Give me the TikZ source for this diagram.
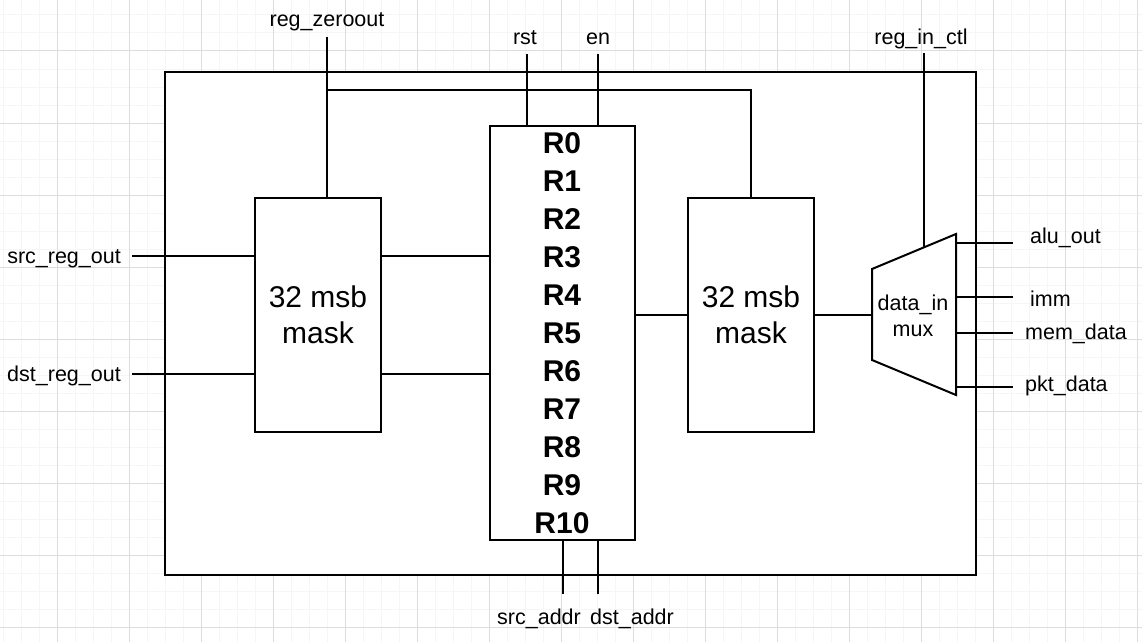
\documentclass[tikz,border=0pt]{standalone}
\usepackage{fontspec}
\setmainfont{Liberation Sans}
\definecolor{gridmajor}{HTML}{DDDDDD}
\definecolor{gridminor}{HTML}{F6F6F6}
\begin{document}
\begin{tikzpicture}[x=1pt,y=-1pt,
  box/.style={draw, fill=white, line width=2pt, inner sep=0pt},
  wire/.style={line width=2pt},
  lbl/.style={font=\fontsize{21.5}{25}\selectfont, inner sep=0pt},
  masklbl/.style={font=\fontsize{30}{36}\selectfont, align=center},
  reglbl/.style={font=\bfseries\fontsize{30}{36}\selectfont, inner sep=0pt, anchor=base},
  muxlbl/.style={font=\fontsize{21.5}{26}\selectfont, align=center, inner sep=0pt}]
\useasboundingbox (0,0) rectangle (1142,642);
\fill[white] (0,0) rectangle (1142,642);
% grid
\foreach \x in {3,21,...,1142} \draw[gridminor, line width=1pt] (\x,0) -- (\x,642);
\foreach \y in {15,33,...,642} \draw[gridminor, line width=1pt] (0,\y) -- (1142,\y);
\foreach \x in {57,129,...,1142} \draw[gridmajor, line width=1pt] (\x,0) -- (\x,642);
\foreach \y in {51,123,...,642} \draw[gridmajor, line width=1pt] (0,\y) -- (1142,\y);
% outer box
\node[box, minimum width=811pt, minimum height=503pt] (outer) at (570.5,323.5) {};
% blocks
\node[box, masklbl, minimum width=126pt, minimum height=234pt] (lmask) at (318,315) {32 msb\\mask};
\node[box, masklbl, minimum width=126pt, minimum height=234pt] (rmask) at (751,315) {32 msb\\mask};
\node[box, minimum width=145pt, minimum height=414pt] (reg) at (562.5,333) {};
\foreach \i in {0,...,10} \node[reglbl] (r\i) at (562,153+38*\i) {R\i};
% mux
\draw[wire, fill=white, line join=miter] (872,269) -- (956,234) -- (956,395) -- (872,360) -- cycle;
\node[muxlbl] (mux) at (913,316) {data\_in\\mux};
\coordinate (muxin) at (872,315);
\coordinate (muxtop) at (924,247);
% left inputs
\coordinate (srcL) at (132,256);
\coordinate (dstL) at (132,374);
\node[lbl, anchor=base east] (srclbl) at (121,263) {src\_reg\_out};
\node[lbl, anchor=base east] (dstlbl) at (121,381) {dst\_reg\_out};
\draw[wire] (srcL) -- (lmask.west |- srcL);
\draw[wire] (dstL) -- (lmask.west |- dstL);
\draw[wire] (lmask.east |- srcL) -- (reg.west |- srcL);
\draw[wire] (lmask.east |- dstL) -- (reg.west |- dstL);
% reg_zeroout
\coordinate (zo) at (327,37);
\coordinate (zoj) at (327,90);
\node[lbl, anchor=base] (zolbl) at (327,27) {reg\_zeroout};
\draw[wire] (zo) -- (zo |- lmask.north);
\draw[wire] (zoj) -- (zoj -| rmask.north) -- (rmask.north);
% rst / en
\coordinate (rst) at (527,54);
\coordinate (en) at (598,54);
\node[lbl, anchor=base] (rstlbl) at (525,45) {rst};
\node[lbl, anchor=base] (enlbl) at (598,45) {en};
\draw[wire] (rst) -- (rst |- reg.north);
\draw[wire] (en) -- (en |- reg.north);
% addresses
\coordinate (sa) at (563,594);
\coordinate (da) at (598,594);
\node[lbl, anchor=base] (salbl) at (539,624) {src\_addr};
\node[lbl, anchor=base] (dalbl) at (632,624) {dst\_addr};
\draw[wire] (sa |- reg.south) -- (sa);
\draw[wire] (da |- reg.south) -- (da);
% reg -> rmask -> mux
\draw[wire] (rmask.west -| reg.east) -- (rmask.west);
\draw[wire] (rmask.east) -- (muxin);
% reg_in_ctl
\coordinate (ric) at (924,53);
\node[lbl, anchor=base] (riclbl) at (921,45) {reg\_in\_ctl};
\draw[wire] (ric) -- (muxtop);
% mux inputs
\coordinate (m1) at (956,243); \coordinate (e1) at (1013,243);
\coordinate (m2) at (956,297); \coordinate (e2) at (1013,297);
\coordinate (m3) at (956,333); \coordinate (e3) at (1013,333);
\coordinate (m4) at (956,387); \coordinate (e4) at (1013,387);
\draw[wire] (m1) -- (e1);
\draw[wire] (m2) -- (e2);
\draw[wire] (m3) -- (e3);
\draw[wire] (m4) -- (e4);
\node[lbl, anchor=base west] (l1) at (1030,243) {alu\_out};
\node[lbl, anchor=base west] (l2) at (1030,306) {imm};
\node[lbl, anchor=base west] (l3) at (1025,339) {mem\_data};
\node[lbl, anchor=base west] (l4) at (1025,391) {pkt\_data};
\end{tikzpicture}
\end{document}
